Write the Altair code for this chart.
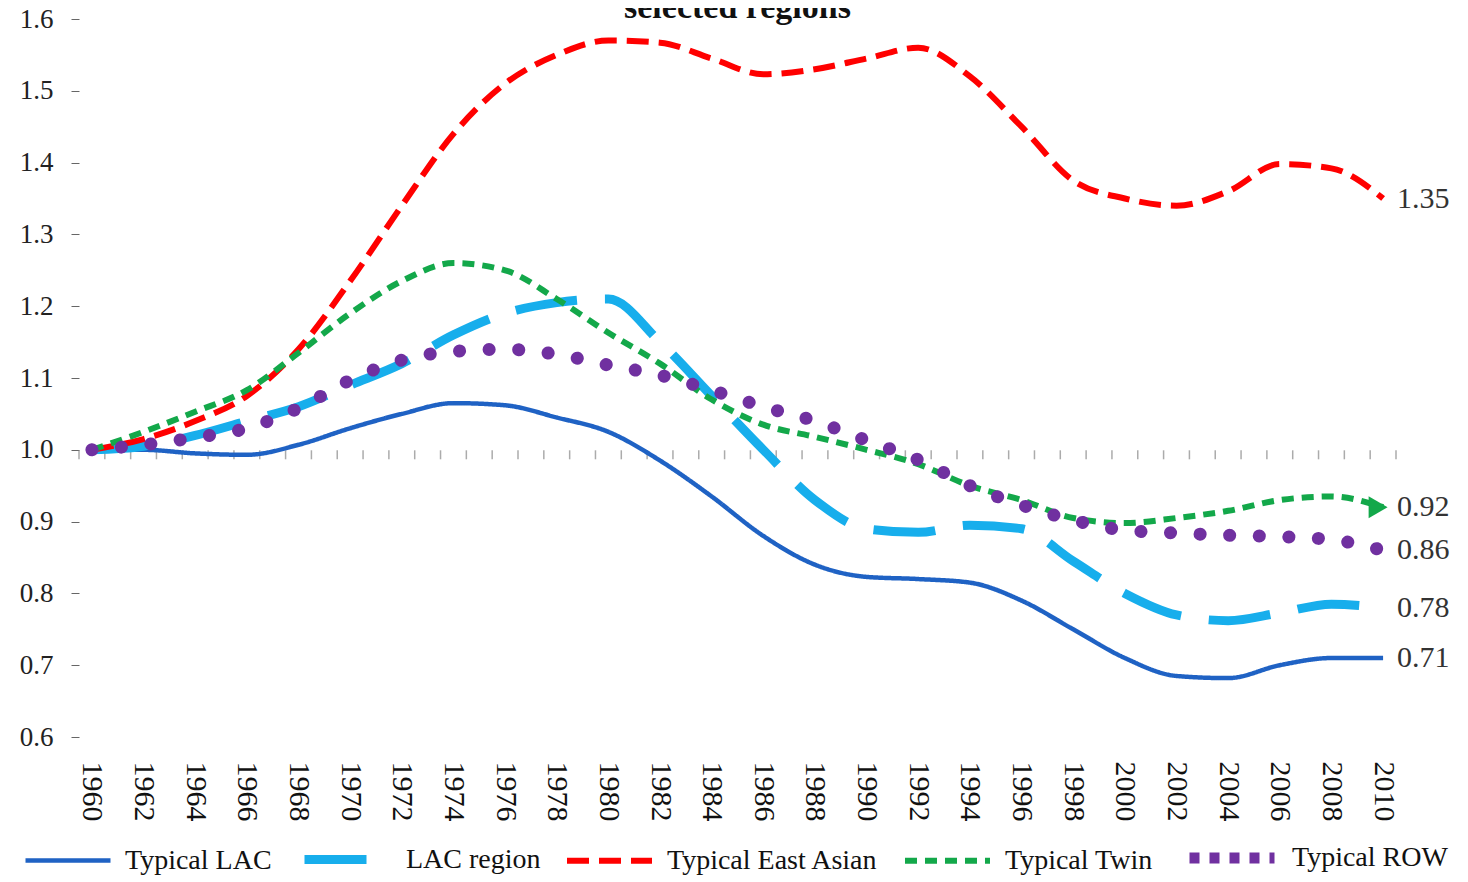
import altair as alt
import pandas as pd

years = list(range(1960, 2011, 2))

typical_lac = [1.00, 1.00, 0.995, 0.993, 1.007, 1.03, 1.05, 1.065, 1.062, 1.045, 1.025, 0.985, 0.935,
               0.88, 0.84, 0.823, 0.82, 0.815, 0.79, 0.75, 0.71, 0.685, 0.682, 0.70, 0.71, 0.71]
lac_region = [1.00, 1.005, 1.02, 1.04, 1.06, 1.09, 1.12, 1.16, 1.19, 1.205, 1.21, 1.15, 1.075,
              1.00, 0.93, 0.89, 0.885, 0.895, 0.89, 0.845, 0.80, 0.77, 0.762, 0.773, 0.785, 0.78]
east_asian = [1.00, 1.015, 1.04, 1.075, 1.14, 1.235, 1.34, 1.44, 1.51, 1.55, 1.57, 1.567, 1.545,
              1.523, 1.53, 1.545, 1.56, 1.52, 1.45, 1.375, 1.35, 1.34, 1.36, 1.398, 1.392, 1.35]
typical_twin = [1.00, 1.025, 1.053, 1.083, 1.135, 1.19, 1.235, 1.26, 1.25, 1.21, 1.163, 1.12, 1.07,
                1.035, 1.018, 1.00, 0.98, 0.95, 0.93, 0.905, 0.898, 0.905, 0.915, 0.93, 0.935, 0.92]
typical_row = [1.00, 1.007, 1.017, 1.03, 1.058, 1.097, 1.125, 1.137, 1.14, 1.133, 1.118, 1.104, 1.083,
               1.06, 1.04, 1.013, 0.986, 0.95, 0.923, 0.902, 0.888, 0.884, 0.881, 0.879, 0.875, 0.86]

series_names = ["Typical LAC", "LAC region", "Typical East Asian", "Typical Twin", "Typical ROW"]
series_values = [typical_lac, lac_region, east_asian, typical_twin, typical_row]
end_labels = ["0.71", "0.78", "1.35", "0.92", "0.86"]
colors = ["#1F62C4", "#17AEEC", "#FF0000", "#13A84A", "#7030A0"]
dashes = [[1, 0], [62, 28], [22, 10], [12, 8], [10, 10]]
widths = [4.5, 9, 6, 6, 11]
row_dot_dash = [0.1, 29.5]
row_dot_width = 13
y_ticks = [0.6, 0.7, 0.8, 0.9, 1.0, 1.1, 1.2, 1.3, 1.4, 1.5, 1.6]
title_text = "selected regions"
SERIF = "Liberation Serif"

rows = []
for name, vals in zip(series_names, series_values):
    for yr, v in zip(years, vals):
        rows.append({"year": yr, "value": v, "series": name})
df = pd.DataFrame(rows)
df_main = df[df["series"] != "Typical ROW"]
df_row = df[df["series"] == "Typical ROW"]

end_df = pd.DataFrame({
    "year": [years[-1]] * len(series_names),
    "value": [v[-1] for v in series_values],
    "label": end_labels,
    "series": series_names,
})
arrow_df = end_df[end_df["series"] == "Typical Twin"]
tick_df = pd.DataFrame({"year": [y - 0.5 for y in range(years[0], years[-1] + 2)], "value": 1.0})

xs = alt.Scale(domain=[years[0] - 0.5, years[-1] + 0.5], nice=False, zero=False)
ys = alt.Scale(domain=[0.6, 1.6], nice=False, zero=False)

x_enc = alt.X("year:Q", scale=xs, title=None, axis=alt.Axis(
    values=years, format="d", labelAngle=90, labelFont=SERIF, labelFontSize=30,
    labelColor="#111", ticks=False, domain=False, grid=False, labelPadding=24, title=None,
    labelFlush=False, labelOverlap=False))
y_enc = alt.Y("value:Q", scale=ys, title=None, axis=alt.Axis(
    values=y_ticks, format=".1f", labelFont=SERIF, labelFontSize=27, labelColor="#222",
    tickSize=8, tickColor="#666", domain=False, grid=False, labelPadding=18, title=None))

legend = alt.Legend(
    orient="none", legendX=-56, legendY=791, direction="horizontal", title=None,
    symbolType="stroke", symbolSize=7225, labelFont=SERIF, labelFontSize=28,
    labelColor="#111", columnPadding=14, labelOffset=12, labelLimit=400,
)

ticks = alt.Chart(tick_df).mark_tick(orient="vertical", size=9, thickness=1.5, color="#888", yOffset=5).encode(
    x=x_enc, y=y_enc,
)

lines = alt.Chart(df_main).mark_line(interpolate="monotone").encode(
    x=x_enc, y=y_enc,
    color=alt.Color("series:N", scale=alt.Scale(domain=series_names, range=colors), legend=legend),
    strokeDash=alt.StrokeDash("series:N", scale=alt.Scale(domain=series_names, range=dashes), legend=legend),
    strokeWidth=alt.StrokeWidth("series:N", scale=alt.Scale(type="ordinal", domain=series_names, range=widths),
                                legend=legend),
    detail="series:N",
)

row_line = alt.Chart(df_row).mark_line(
    interpolate="monotone", strokeCap="round", strokeDash=row_dot_dash,
    strokeWidth=row_dot_width, color=colors[-1],
).encode(x=x_enc, y=y_enc)

arrow = alt.Chart(arrow_df).mark_point(shape="triangle-right", filled=True, size=480, opacity=1,
                                        color="#13A84A", xOffset=-5).encode(x=x_enc, y=y_enc)

texts = alt.Chart(end_df).mark_text(align="left", baseline="middle", dx=14, font=SERIF, fontSize=30,
                                     color="#333").encode(x=x_enc, y=y_enc, text="label:N")

chart = alt.layer(ticks, lines, row_line, arrow, texts).properties(
    width=1317, height=718,
    title=alt.TitleParams(title_text, font=SERIF, fontSize=34, fontWeight="bold", anchor="middle",
                          offset=-20, color="#111"),
    autosize=alt.AutoSizeParams(type="none"),
    padding={"left": 71, "top": 11, "right": 64, "bottom": 140},
).configure_view(stroke=None)

chart.save("out.html", embed_options={"renderer": "svg", "actions": False})
